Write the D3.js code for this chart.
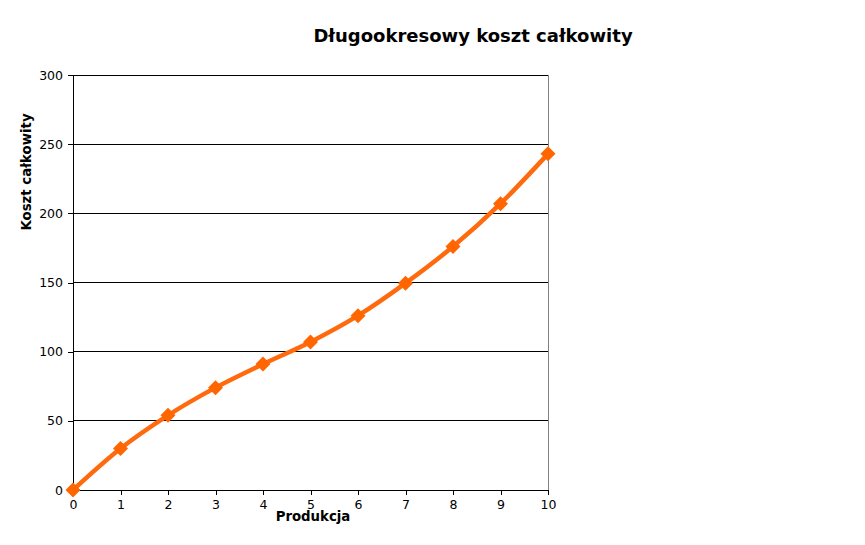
<!DOCTYPE html>
<html><head><meta charset="utf-8">
<script src="https://cdn.jsdelivr.net/npm/d3@7"></script>
<style>body{margin:0;background:#fff;} svg{display:block;font-family:"DejaVu Sans",sans-serif;}</style>
</head><body>
<svg id="c" width="865" height="545"></svg>
<script>
const production = [0,1,2,3,4,5,6,7,8,9,10];
const totalCost = [0,30,54,74,91,107,126,149.5,176,207,243];
const yTicks = [0,50,100,150,200,250,300];
const xTicks = [0,1,2,3,4,5,6,7,8,9,10];
const title = "Długookresowy koszt całkowity";
const xLabel = "Produkcja";
const yLabel = "Koszt całkowity";

const svg = d3.select("#c");
const L=73,R=548,T=75,B=490;
const x = d3.scaleLinear().domain([0,10]).range([L,R]);
const y = d3.scaleLinear().domain([0,300]).range([B,T]);

svg.append("g").selectAll("line").data(yTicks.filter(d=>d>0)).join("line")
  .attr("x1",L).attr("x2",R).attr("y1",d=>y(d)).attr("y2",d=>y(d))
  .attr("stroke","#000").attr("stroke-width",1).attr("shape-rendering","crispEdges");
svg.append("line").attr("x1",R).attr("x2",R).attr("y1",T).attr("y2",B)
  .attr("stroke","#808080").attr("shape-rendering","crispEdges");

const ya = svg.append("g").attr("transform",`translate(${L},0)`)
  .call(d3.axisLeft(y).tickValues(yTicks).tickSize(5).tickPadding(5));
const xa = svg.append("g").attr("transform",`translate(0,${B})`)
  .call(d3.axisBottom(x).tickValues(xTicks).tickSize(5).tickPadding(5));
[ya,xa].forEach(a=>{
  a.selectAll("text").attr("font-family","DejaVu Sans").attr("font-size","12.5px").attr("fill","#000");
  a.selectAll("line,path").attr("stroke","#000").attr("shape-rendering","crispEdges");
});

const pts = production.map((p,i)=>[p,totalCost[i]]);
svg.append("path").datum(pts)
  .attr("d",d3.line().x(d=>x(d[0])).y(d=>y(d[1])).curve(d3.curveMonotoneX))
  .attr("fill","none").attr("stroke","#ff6a0e").attr("stroke-width",4.5).attr("stroke-linejoin","round");
svg.append("g").selectAll("path").data(pts).join("path")
  .attr("transform",d=>`translate(${x(d[0])},${y(d[1])})`)
  .attr("d","M0,-7.5L7.5,0L0,7.5L-7.5,0Z").attr("fill","#ff6600");

svg.append("text").attr("x",473).attr("y",42).attr("text-anchor","middle")
  .attr("font-size","18px").attr("font-weight","bold").text(title);
svg.append("text").attr("x",313).attr("y",521).attr("text-anchor","middle")
  .attr("font-size","13.3px").attr("font-weight","bold").text(xLabel);
svg.append("text").attr("transform","translate(31,172) rotate(-90)").attr("text-anchor","middle")
  .attr("font-size","13.3px").attr("font-weight","bold").text(yLabel);
</script>
</body></html>
